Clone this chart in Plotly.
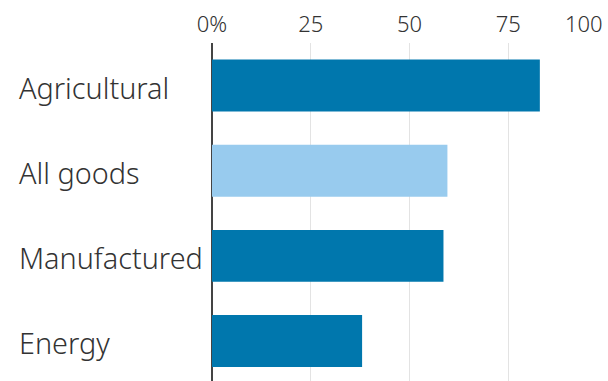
import plotly.graph_objects as go

categories = ["Agricultural", "All goods", "Manufactured", "Energy"]
values = [83, 59.6, 58.6, 38]
colors = ["#0077AD", "#98CBEE", "#0077AD", "#0077AD"]
tick_vals = [0, 25, 50, 75, 100]
tick_text = ["0%", "25", "50", "75", ""]
last_tick_label = "100"

TICK_FONT = dict(family="Noto Sans", size=22, color="#333333", weight=300)
CAT_FONT = dict(family="Noto Sans", size=28.8, color="#333333", weight=300)

fig = go.Figure(go.Bar(
    y=categories, x=values, orientation="h",
    marker=dict(color=colors, line=dict(width=0)),
    hoverinfo="skip",
))

fig.update_layout(
    width=608, height=381,
    margin=dict(l=212, r=1, t=43, b=0),
    paper_bgcolor="white", plot_bgcolor="white",
    bargap=0.39,
    showlegend=False,
    font=dict(family="Noto Sans", color="#333333"),
)

fig.update_xaxes(
    side="top", range=[0, 100],
    tickvals=tick_vals, ticktext=tick_text,
    showgrid=True, gridcolor="#E3E3E3", gridwidth=1,
    zeroline=True, zerolinecolor="#444444", zerolinewidth=1.5,
    ticks="outside", ticklen=1, tickcolor="rgba(0,0,0,0)",
    tickfont=TICK_FONT,
    showline=False, fixedrange=True,
)
fig.update_yaxes(
    categoryorder="array", categoryarray=categories,
    range=[3.47, -0.5],
    showticklabels=False, showgrid=False, zeroline=False, showline=False,
    fixedrange=True,
)

for cat in categories:
    fig.add_annotation(
        x=-0.494, xref="paper", y=cat, yref="y",
        text=cat, showarrow=False, xanchor="left", yanchor="middle",
        yshift=-2,
        font=CAT_FONT,
    )

fig.add_annotation(
    x=tick_vals[-1], xref="x", y=1, yref="paper",
    text=last_tick_label, showarrow=False, xanchor="right", yanchor="bottom",
    xshift=-2, yshift=3,
    font=TICK_FONT,
)

fig.write_html("out.html", config={"displayModeBar": False})
